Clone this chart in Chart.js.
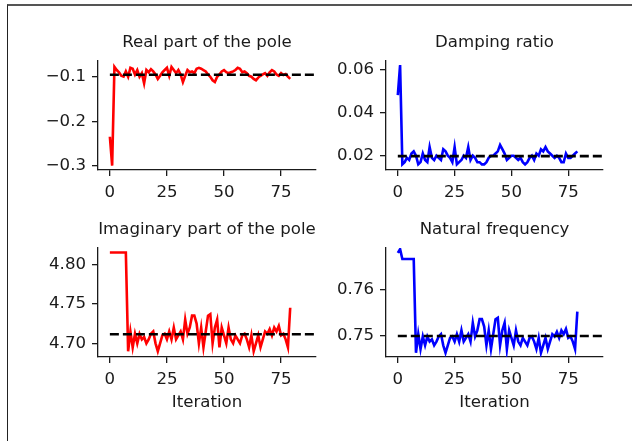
<!DOCTYPE html>
<html>
<head>
<meta charset="utf-8">
<script src="https://cdn.jsdelivr.net/npm/chart.js@4.4.1/dist/chart.umd.min.js"></script>
<style>
  html, body { margin: 0; padding: 0; background: #fff; }
  body { width: 632px; height: 441px; position: relative; overflow: hidden; }
  #frame { position: absolute; left: 7px; top: 4px; width: 640px; height: 450px;
           border-top: 2px solid #555; border-left: 1px solid #222; }
  canvas { position: absolute; }
</style>
</head>
<body>
<div id="frame"></div>
<canvas id="real" width="320" height="181" style="left:8px;top:25px"></canvas>
<canvas id="damp" width="319" height="181" style="left:296px;top:25px"></canvas>
<canvas id="imag" width="320" height="205" style="left:8px;top:212px"></canvas>
<canvas id="freq" width="319" height="205" style="left:296px;top:212px"></canvas>
<script>
// iteration index (x axis)
var iterations = [0,1,2,3,4,5,6,7,8,9,10,11,12,13,14,15,16,17,18,19,
                  20,21,22,23,24,25,26,27,28,29,30,31,32,33,34,35,36,37,38,39,
                  40,41,42,43,44,45,46,47,48,49,50,51,52,53,54,55,56,57,58,59,
                  60,61,62,63,64,65,66,67,68,69,70,71,72,73,74,75,76,77,78,79];

// estimated values
var realPart = [-0.235,-0.300,-0.078,-0.085,-0.090,-0.098,-0.100,-0.088,-0.100,-0.080,
                -0.082,-0.095,-0.085,-0.100,-0.092,-0.115,-0.085,-0.090,-0.083,-0.088,
                -0.095,-0.105,-0.098,-0.090,-0.085,-0.080,-0.098,-0.078,-0.085,-0.092,
                -0.085,-0.095,-0.112,-0.098,-0.085,-0.090,-0.088,-0.092,-0.082,-0.080,
                -0.082,-0.085,-0.088,-0.095,-0.100,-0.108,-0.112,-0.100,-0.095,-0.088,
                -0.085,-0.090,-0.092,-0.090,-0.088,-0.085,-0.080,-0.082,-0.090,-0.088,
                -0.092,-0.098,-0.100,-0.105,-0.108,-0.102,-0.098,-0.095,-0.092,-0.098,
                -0.090,-0.085,-0.088,-0.095,-0.098,-0.092,-0.096,-0.094,-0.100,-0.105];

var dampingRatio = [0.048,0.062,0.016,0.017,0.019,0.018,0.021,0.022,0.020,0.016,
                    0.017,0.021,0.018,0.017,0.024,0.019,0.018,0.020,0.019,0.018,
                    0.023,0.022,0.020,0.019,0.017,0.024,0.016,0.017,0.018,0.020,
                    0.019,0.024,0.018,0.020,0.019,0.017,0.017,0.016,0.016,0.017,
                    0.019,0.020,0.020,0.021,0.022,0.025,0.023,0.021,0.018,0.019,
                    0.020,0.020,0.019,0.018,0.019,0.017,0.016,0.017,0.019,0.020,
                    0.018,0.021,0.020,0.023,0.022,0.024,0.022,0.021,0.020,0.019,
                    0.020,0.019,0.017,0.017,0.021,0.019,0.019,0.020,0.021,0.022];

var imagPart = [4.815,4.815,4.815,4.815,4.815,4.815,4.815,4.815,4.690,4.715,
                4.695,4.712,4.700,4.712,4.705,4.708,4.700,4.705,4.712,4.715,
                4.700,4.690,4.700,4.710,4.712,4.705,4.715,4.705,4.720,4.705,
                4.710,4.715,4.705,4.730,4.712,4.720,4.735,4.735,4.725,4.700,
                4.720,4.695,4.715,4.735,4.737,4.700,4.720,4.730,4.695,4.720,
                4.710,4.700,4.720,4.705,4.700,4.710,4.705,4.700,4.710,4.712,
                4.705,4.695,4.710,4.690,4.700,4.710,4.695,4.705,4.715,4.712,
                4.718,4.710,4.720,4.715,4.722,4.710,4.712,4.705,4.695,4.745];

var naturalFreq = [0.7678,0.7686,0.7665,0.7665,0.7665,0.7665,0.7665,0.7665,0.7464,0.7504,
                   0.7472,0.7499,0.7480,0.7499,0.7488,0.7493,0.7480,0.7488,0.7499,0.7504,
                   0.7480,0.7464,0.7480,0.7496,0.7499,0.7488,0.7504,0.7488,0.7512,0.7488,
                   0.7496,0.7504,0.7488,0.7528,0.7499,0.7512,0.7536,0.7536,0.7520,0.7480,
                   0.7512,0.7472,0.7504,0.7536,0.7539,0.7480,0.7512,0.7528,0.7472,0.7512,
                   0.7496,0.7480,0.7512,0.7488,0.7480,0.7496,0.7488,0.7480,0.7496,0.7499,
                   0.7488,0.7472,0.7496,0.7464,0.7480,0.7496,0.7472,0.7488,0.7504,0.7499,
                   0.7509,0.7496,0.7512,0.7504,0.7515,0.7496,0.7499,0.7488,0.7472,0.7552];

// true values (dashed lines)
var refReal = -0.0955;
var refDamping = 0.0198;
var refImag = 4.7114;
var refFreq = 0.7500;

// ticks
var xTicks = [0, 25, 50, 75];
var realTicks = [-0.3, -0.2, -0.1];
var realTickLabels = ["\u22120.3", "\u22120.2", "\u22120.1"];
var dampingTicks = [0.02, 0.04, 0.06];
var dampingTickLabels = ["0.02", "0.04", "0.06"];
var imagTicks = [4.70, 4.75, 4.80];
var imagTickLabels = ["4.70", "4.75", "4.80"];
var freqTicks = [0.75, 0.76];
var freqTickLabels = ["0.75", "0.76"];

Chart.defaults.font.family = "'DejaVu Sans', sans-serif";
Chart.defaults.color = "#1a1a1a";

var ink = "#1a1a1a";
var fontSize = 16.6;

// title centred over the plot area (not the whole canvas), like matplotlib
var panelTitle = {
  id: 'panelTitle',
  afterDraw: function (chart, args, opts) {
    var ctx = chart.ctx, a = chart.chartArea;
    ctx.save();
    ctx.font = fontSize + "px 'DejaVu Sans'";
    ctx.fillStyle = ink;
    ctx.textAlign = 'center';
    ctx.textBaseline = 'middle';
    ctx.fillText(opts.text, (a.left + a.right) / 2, a.top - 18);
    ctx.restore();
  }
};

function panel(id, values, refLevel, color, yMin, yMax, yTicks, yLabels, title, xTitle) {
  return new Chart(document.getElementById(id), {
    type: 'line',
    plugins: [panelTitle],
    data: {
      datasets: [
        { data: [{x: 0, y: refLevel}, {x: 90.3, y: refLevel}],
          borderColor: '#000', borderWidth: 2.6, borderDash: [9, 4],
          pointRadius: 0, order: 0 },
        { data: iterations.map(function (it, i) { return {x: it, y: values[i]}; }),
          borderColor: color, borderWidth: 2.6, pointRadius: 0, tension: 0, order: 1 }
      ]
    },
    options: {
      responsive: false,
      animation: false,
      devicePixelRatio: 1,
      layout: { padding: { left: 0, top: 36, right: 12, bottom: 0 } },
      plugins: {
        legend: { display: false },
        tooltip: { enabled: false },
        title: { display: false },
        panelTitle: { text: title }
      },
      scales: {
        x: {
          type: 'linear', min: -5.2, max: 90.3,
          afterBuildTicks: function (s) { s.ticks = xTicks.map(function (v) { return {value: v}; }); },
          afterFit: function (s) { s.height = xTitle ? 60 : 36; },
          grid: { drawOnChartArea: false, drawTicks: true, tickLength: 6, color: ink, lineWidth: 1.3 },
          border: { display: true, color: ink, width: 1.3 },
          ticks: { color: ink, font: { size: fontSize }, padding: 7, maxRotation: 0,
                   callback: function (v) { return String(v); } },
          title: { display: !!xTitle, text: xTitle || '', color: ink,
                   font: { size: fontSize, lineHeight: '20px' }, padding: { top: 0, bottom: 4 } }
        },
        y: {
          type: 'linear', min: yMin, max: yMax,
          afterBuildTicks: function (s) { s.ticks = yTicks.map(function (v) { return {value: v}; }); },
          afterFit: function (s) { s.width = 90; },
          grid: { drawOnChartArea: false, drawTicks: true, tickLength: 6, color: ink, lineWidth: 1.3 },
          border: { display: true, color: ink, width: 1.3 },
          ticks: { color: ink, font: { size: fontSize }, padding: 6,
                   callback: function (v, i) { return yLabels[i]; } }
        }
      }
    }
  });
}

panel('real', realPart, refReal, '#ff0000', -0.3097, -0.0647, realTicks, realTickLabels, 'Real part of the pole', null);
panel('damp', dampingRatio, refDamping, '#0000ff', 0.01338, 0.06384, dampingTicks, dampingTickLabels, 'Damping ratio', null);
panel('imag', imagPart, refImag, '#ff0000', 4.6827, 4.8206, imagTicks, imagTickLabels, 'Imaginary part of the pole', 'Iteration');
panel('freq', naturalFreq, refFreq, '#0000ff', 0.7455, 0.76884, freqTicks, freqTickLabels, 'Natural frequency', 'Iteration');
</script>
</body>
</html>
